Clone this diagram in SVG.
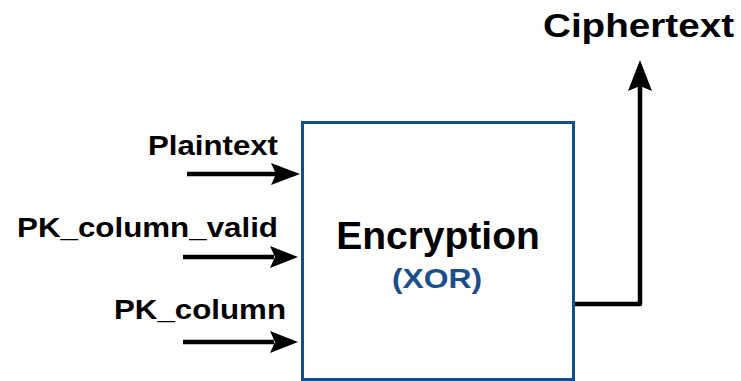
<svg xmlns="http://www.w3.org/2000/svg" width="741" height="381" viewBox="0 0 741 381">
<style>
.lbl{font-family:"Liberation Sans",Arial,sans-serif;font-weight:bold;fill:#000}
.wire{fill:none;stroke:#000;stroke-width:4.5;stroke-linejoin:round}
.head{fill:#000}
</style>
<rect width="741" height="381" fill="#fff"/>
<g id="encryption">
<rect x="302.5" y="122.5" width="271" height="257" fill="#fff" stroke="#114f8e" stroke-width="3"/>
<text class="lbl" x="438" y="249" font-size="39" text-anchor="middle">Encryption</text>
<text class="lbl" x="437" y="288" font-size="28" text-anchor="middle" textLength="90" lengthAdjust="spacingAndGlyphs" style="fill:#1a4f8c">(XOR)</text>
</g>
<g id="plaintext">
<text class="lbl" x="148" y="155" font-size="28" textLength="130" lengthAdjust="spacingAndGlyphs">Plaintext</text>
</g>
<g id="pk_column_valid">
<text class="lbl" x="17" y="237" font-size="28" textLength="261" lengthAdjust="spacingAndGlyphs">PK_column_valid</text>
</g>
<g id="pk_column">
<text class="lbl" x="114" y="319" font-size="28" textLength="172" lengthAdjust="spacingAndGlyphs">PK_column</text>
</g>
<g id="ciphertext">
<text class="lbl" x="543" y="37" font-size="34" textLength="191" lengthAdjust="spacingAndGlyphs">Ciphertext</text>
</g>
<g id="connectors">
<path class="wire" d="M187 174 H276"/>
<polygon class="head" points="300,174 271,163 276,174 271,185"/>
<path class="wire" d="M183 257 H274"/>
<polygon class="head" points="298,257 270,246 275,257 270,268"/>
<path class="wire" d="M183 342 H274"/>
<polygon class="head" points="298,342 270,331 275,342 270,353"/>
<path class="wire" d="M575 304 H640 V86"/>
<polygon class="head" points="640,60 628,91 640,86 652,91"/>
</g>
</svg>
